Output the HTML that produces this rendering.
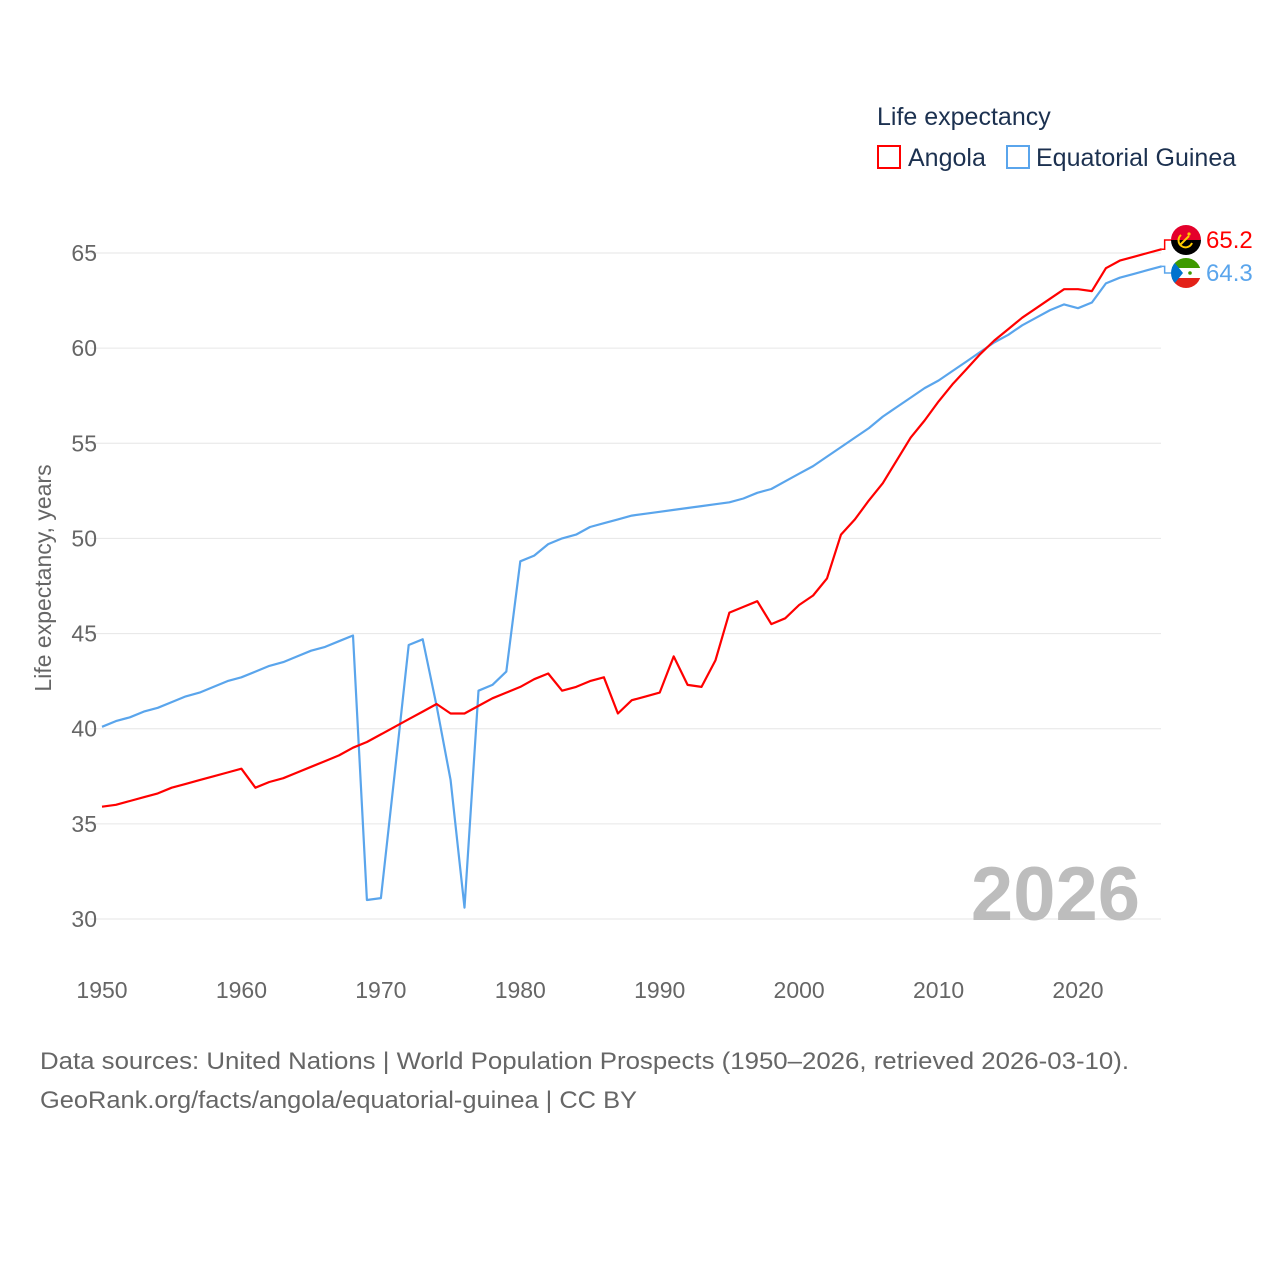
<!DOCTYPE html>
<html><head><meta charset="utf-8"><style>
html,body{margin:0;padding:0;background:#fff;}
body{width:1280px;height:1280px;overflow:hidden;font-family:"Liberation Sans",sans-serif;}
</style></head><body>
<svg id="chart" width="1280" height="1280" viewBox="0 0 1280 1280" xmlns="http://www.w3.org/2000/svg" font-family="Liberation Sans, sans-serif">
  <g>
    <text x="877" y="125" font-size="25" fill="#1c3150">Life expectancy</text>
    <rect x="878" y="146" width="22" height="22" fill="none" stroke="#f00" stroke-width="2"/>
    <text x="908" y="166" font-size="25" fill="#1c3150">Angola</text>
    <rect x="1007" y="146" width="22" height="22" fill="none" stroke="#5aa5ec" stroke-width="2"/>
    <text x="1036" y="166" font-size="25" fill="#1c3150">Equatorial Guinea</text>
  </g>
  <g id="grid"></g>
  <g id="yticks"></g>
  <g id="xticks"></g>
  <text transform="translate(51,578) rotate(-90)" text-anchor="middle" font-size="23" fill="#666">Life expectancy, years</text>
  <text x="1140" y="920" text-anchor="end" font-size="76" font-weight="bold" fill="#bdbdbd">2026</text>
  <g id="series"></g>
  <g id="ends"></g>
  <text x="40" y="1069" font-size="24" fill="#666" textLength="1089" lengthAdjust="spacingAndGlyphs">Data sources: United Nations | World Population Prospects (1950–2026, retrieved 2026-03-10).</text>
  <text x="40" y="1108" font-size="24" fill="#666" textLength="597" lengthAdjust="spacingAndGlyphs">GeoRank.org/facts/angola/equatorial-guinea | CC BY</text>
</svg>
<script>
const years = [];
for (let y = 1950; y <= 2026; y++) years.push(y);
const angolaValues = [35.9,36.0,36.2,36.4,36.6,36.9,37.1,37.3,37.5,37.7,37.9,36.9,37.2,37.4,37.7,38.0,38.3,38.6,39.0,39.3,39.7,40.1,40.5,40.9,41.3,40.8,40.8,41.2,41.6,41.9,42.2,42.6,42.9,42.0,42.2,42.5,42.7,40.8,41.5,41.7,41.9,43.8,42.3,42.2,43.6,46.1,46.4,46.7,45.5,45.8,46.5,47.0,47.9,50.2,51.0,52.0,52.9,54.1,55.3,56.2,57.2,58.1,58.9,59.7,60.4,61.0,61.6,62.1,62.6,63.1,63.1,63.0,64.2,64.6,64.8,65.0,65.2];
const eqGuineaValues = [40.1,40.4,40.6,40.9,41.1,41.4,41.7,41.9,42.2,42.5,42.7,43.0,43.3,43.5,43.8,44.1,44.3,44.6,44.9,31.0,31.1,37.7,44.4,44.7,41.2,37.3,30.6,42.0,42.3,43.0,48.8,49.1,49.7,50.0,50.2,50.6,50.8,51.0,51.2,51.3,51.4,51.5,51.6,51.7,51.8,51.9,52.1,52.4,52.6,53.0,53.4,53.8,54.3,54.8,55.3,55.8,56.4,56.9,57.4,57.9,58.3,58.8,59.3,59.8,60.3,60.7,61.2,61.6,62.0,62.3,62.1,62.4,63.4,63.7,63.9,64.1,64.3];
const yTicks = [30,35,40,45,50,55,60,65];
const xTicks = [1950,1960,1970,1980,1990,2000,2010,2020];

const NS = "http://www.w3.org/2000/svg";
const xScale = v => 102 + (v - 1950) * (976 / 70);
const yScale = v => 919 - (v - 30) * (666 / 35);
function mk(tag, attrs, parent) {
  const e = document.createElementNS(NS, tag);
  for (const k in attrs) e.setAttribute(k, attrs[k]);
  parent.appendChild(e);
  return e;
}
const grid = document.getElementById('grid');
const yt = document.getElementById('yticks');
yTicks.forEach(t => {
  const l = mk('line', {x1: 90, x2: 1161, y1: yScale(t), y2: yScale(t), stroke: '#e6e6e6', 'stroke-width': 1}, grid);
  
  
  const tx = mk('text', {x: 97, y: yScale(t) + 8, 'text-anchor': 'end', 'font-size': 23, fill: '#666'}, yt);
  tx.textContent = t;
  
  
});
const xt = document.getElementById('xticks');
xTicks.forEach(t => {
  const tx = mk('text', {x: xScale(t), y: 998, 'text-anchor': 'middle', 'font-size': 23, fill: '#666'}, xt);
  tx.textContent = t;
  
  
});
const series = document.getElementById('series');
function line(vals, color, name) {
  const d = vals.map((v, i) => (i ? 'L' : 'M') + xScale(years[i]).toFixed(1) + ',' + yScale(v).toFixed(1)).join('');
  const p = mk('path', {d: d, fill: 'none', stroke: color, 'stroke-width': 2.2, 'stroke-linejoin': 'round'}, series);
  
  
}
line(eqGuineaValues, '#5aa5ec', 'line-equatorial-guinea');
line(angolaValues, '#f00', 'line-angola');

const ends = document.getElementById('ends');
const ex = xScale(years[years.length - 1]);
const aLast = angolaValues[angolaValues.length - 1], eLast = eqGuineaValues[eqGuineaValues.length - 1];
const ay = 240, ey = 273;
let c = mk('path', {d: `M${ex},${yScale(aLast)}H${ex+3}V${ay}H1172`, fill: 'none', stroke: '#f00', 'stroke-width': 1.5}, ends);
 
c = mk('path', {d: `M${ex},${yScale(eLast)}H${ex+3}V${ey}H1172`, fill: 'none', stroke: '#5aa5ec', 'stroke-width': 1.5}, ends);
 

const defs = mk('defs', {}, ends);
const cp1 = mk('clipPath', {id: 'fa'}, defs); mk('circle', {cx: 1186, cy: ay, r: 15}, cp1);
const cp2 = mk('clipPath', {id: 'fe'}, defs); mk('circle', {cx: 1186, cy: ey, r: 15}, cp2);
const fa = mk('g', {'clip-path': 'url(#fa)'}, ends);
 
mk('rect', {x: 1170, y: ay - 16, width: 32, height: 16, fill: '#e4002b'}, fa);
mk('rect', {x: 1170, y: ay, width: 32, height: 16, fill: '#000'}, fa);
mk('path', {d: `M1181,${ay-5} A7,7 0 1 0 1192,${ay+3}`, fill: 'none', stroke: '#fc0', 'stroke-width': 2}, fa);
mk('path', {d: `M1180,${ay+5} L1189,${ay-4}`, stroke: '#fc0', 'stroke-width': 2}, fa);
mk('circle', {cx: 1189, cy: ay - 6, r: 1.6, fill: '#fc0'}, fa);
const fe = mk('g', {'clip-path': 'url(#fe)'}, ends);
 
mk('rect', {x: 1170, y: ey - 16, width: 32, height: 11, fill: '#3e9a00'}, fe);
mk('rect', {x: 1170, y: ey - 5, width: 32, height: 10, fill: '#fff'}, fe);
mk('rect', {x: 1170, y: ey + 5, width: 32, height: 11, fill: '#e32118'}, fe);
mk('path', {d: `M1170,${ey-16} L1183,${ey} L1170,${ey+16}Z`, fill: '#0073ce'}, fe);
mk('circle', {cx: 1190, cy: ey, r: 1.8, fill: '#3e9a00'}, fe);

let t = mk('text', {x: 1206, y: ay + 8, 'font-size': 24, fill: '#f00'}, ends);
t.textContent = aLast.toFixed(1);
 
t = mk('text', {x: 1206, y: ey + 8, 'font-size': 24, fill: '#5aa5ec'}, ends);
t.textContent = eLast.toFixed(1);
 
</script>
</body></html>
